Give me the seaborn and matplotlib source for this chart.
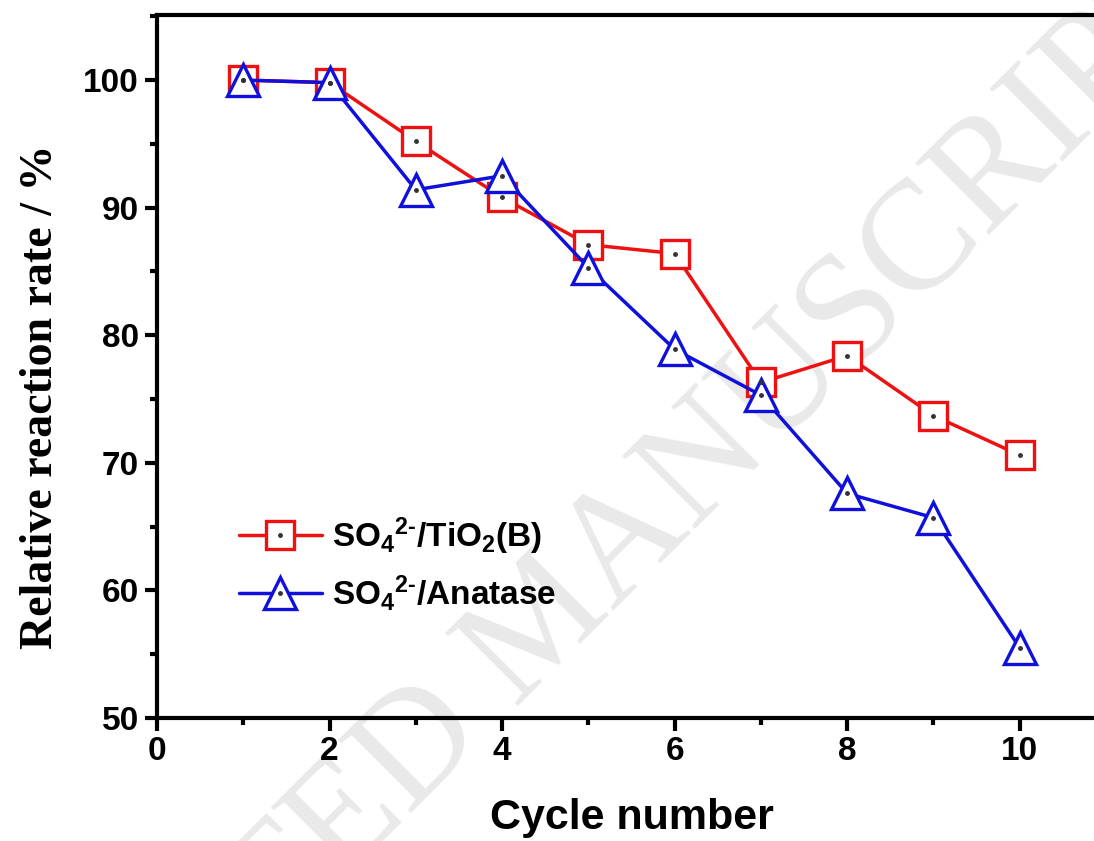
import matplotlib
matplotlib.use("Agg")
import matplotlib.pyplot as plt
import seaborn as sns
from matplotlib.legend_handler import HandlerTuple
from matplotlib.ticker import MultipleLocator

cycles = [1, 2, 3, 4, 5, 6, 7, 8, 9, 10]
tio2b = [100.0, 99.8, 95.2, 90.8, 87.1, 86.4, 76.3, 78.4, 73.7, 70.6]
anatase = [100.0, 99.8, 91.4, 92.5, 85.3, 78.9, 75.3, 67.6, 65.7, 55.5]
label_tio2b = r"SO$_4$$^{2\text{-}}$/TiO$_2$(B)"
label_anatase = r"SO$_4$$^{2\text{-}}$/Anatase"

sns.set_style("white")
plt.rcParams["font.family"] = ["Liberation Sans", "DejaVu Sans"]
plt.rcParams["mathtext.fontset"] = "custom"
plt.rcParams["mathtext.rm"] = "Liberation Sans:bold"
plt.rcParams["mathtext.it"] = "Liberation Sans:bold"
plt.rcParams["mathtext.bf"] = "Liberation Sans:bold"
plt.rcParams["text.color"] = "black"
plt.rcParams["axes.labelcolor"] = "black"
plt.rcParams["xtick.color"] = "black"
plt.rcParams["ytick.color"] = "black"

fig = plt.figure(figsize=(10.94, 8.41), dpi=100)
ax = fig.add_axes([157 / 1094, 1 - 718 / 841, (1106 - 157) / 1094, (718 - 15) / 841])

# watermark (behind data)
ax.text(545 / 1094, 1 - 625 / 841, "ACCEPTED MANUSCRIPT", rotation=45,
        ha="center", va="center", rotation_mode="anchor",
        fontsize=112, family="Liberation Serif", color="#e9e9e9",
        transform=fig.transFigure, zorder=0, clip_on=False)

sns.lineplot(x=cycles, y=tio2b, ax=ax, color="#ee1111", lw=2.5, marker="s",
             markersize=20, markerfacecolor="white", markeredgecolor="#ee1111",
             markeredgewidth=2.4, zorder=3)
sns.lineplot(x=cycles, y=anatase, ax=ax, color="#1010dd", lw=2.5, marker="^",
             markersize=23, markerfacecolor="white", markeredgecolor="#1010dd",
             markeredgewidth=2.4, zorder=4)
ax.plot(cycles, tio2b, ls="none", marker="o", ms=2.5, color="#333333", zorder=5)
ax.plot(cycles, anatase, ls="none", marker="o", ms=2.5, color="#333333", zorder=6)

ax.set_xlim(0, 11)
ax.set_ylim(50, 105.1)
ax.xaxis.set_major_locator(MultipleLocator(2))
ax.xaxis.set_minor_locator(MultipleLocator(1))
ax.yaxis.set_major_locator(MultipleLocator(10))
ax.yaxis.set_minor_locator(MultipleLocator(5))
ax.tick_params(which="both", direction="out", width=3, color="black")
ax.tick_params(which="major", length=9, labelsize=24, pad=4)
ax.tick_params(which="minor", length=5)
ax.tick_params(axis="x", which="both", bottom=True)
ax.tick_params(axis="y", which="both", left=True)
for lab in ax.get_xticklabels() + ax.get_yticklabels():
    lab.set_fontweight("bold")
for s in ax.spines.values():
    s.set_linewidth(3)
    s.set_color("black")
ax.patch.set_alpha(0)

ax.set_xlabel("Cycle number", fontsize=31, fontweight="bold", labelpad=22)
ax.set_ylabel("Relative reaction rate / %", fontsize=33, fontweight="bold",
              family="Liberation Serif")
ax.yaxis.set_label_coords((62 - 157) / 949, (718 - 397) / 703)

h1, h2, d1, d2 = ax.lines[0], ax.lines[1], ax.lines[2], ax.lines[3]
leg = ax.legend([(h1, d1), (h2, d2)], [label_tio2b, label_anatase],
                handler_map={tuple: HandlerTuple(ndivide=1)},
                loc="upper left", bbox_to_anchor=(0.206, 1 - 502 / 841),
                bbox_transform=fig.transFigure, frameon=False,
                prop={"family": "Liberation Sans", "weight": "bold", "size": 24},
                handlelength=2.5, handletextpad=0.3, labelspacing=0.5,
                borderaxespad=0)

fig.savefig("out.png", dpi=100)
